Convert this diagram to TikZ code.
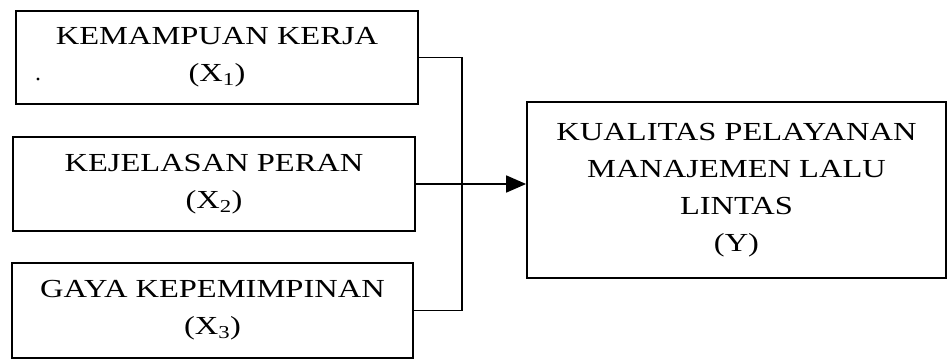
\documentclass[tikz,border=0pt]{standalone}
\usepackage{fontspec}
\setmainfont[FakeStretch=1.25]{Liberation Serif}
\usetikzlibrary{arrows.meta}

\tikzset{
  varbox/.style={draw,line width=1.8pt,align=center,inner sep=0pt,
    font=\fontsize{26}{37}\selectfont},
  link/.style={line width=1.8pt}
}

\begin{document}
\begin{tikzpicture}[x=1pt,y=1pt]
 \useasboundingbox (0,0) rectangle (949,360);
 % independent variables
 \node[varbox,minimum width=402pt,minimum height=93pt] (x1) at (217,302.5) {KEMAMPUAN KERJA\\(X\textsubscript{1})};
 \node[varbox,minimum width=402pt,minimum height=94pt] (x2) at (214,176) {KEJELASAN PERAN\\(X\textsubscript{2})};
 \node[varbox,minimum width=401pt,minimum height=95pt] (x3) at (212.5,49.5) {GAYA KEPEMIMPINAN\\(X\textsubscript{3})};
 % dependent variable
 \node[varbox,minimum width=419pt,minimum height=176pt] (y) at (736.5,170) {KUALITAS PELAYANAN\\MANAJEMEN LALU\\LINTAS\\(Y)};
 \fill (38,281) circle (1.6pt);
 % connectors
 \coordinate (bus) at (462,176);
 \draw[link] (x1.east) -| (bus) |- (x3.east);
 \draw[link,-{Triangle[length=20pt,width=17pt]}] (x2.east) -- (x2.east -| y.west);
\end{tikzpicture}
\end{document}
